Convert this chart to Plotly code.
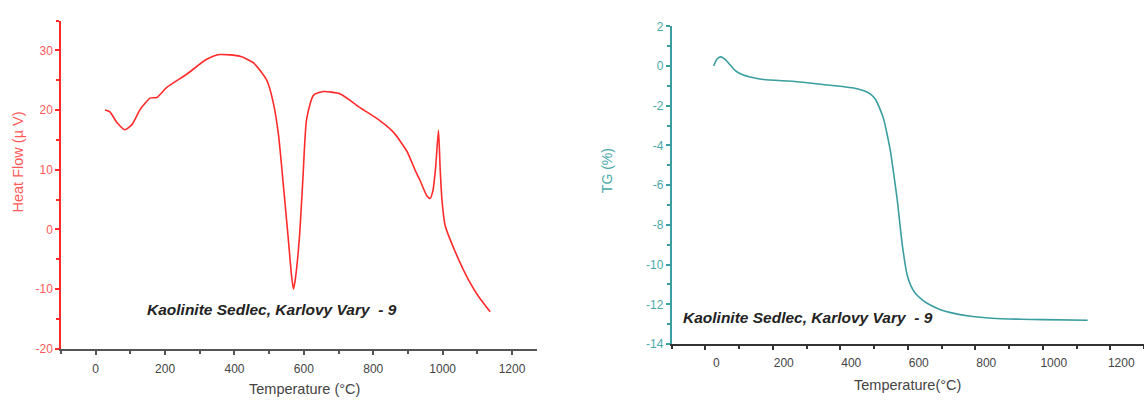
import plotly.graph_objects as go

# DTA curve (heat flow vs temperature)
dta_temp = [27, 41, 60, 84, 105, 128, 157, 176, 205, 262, 320, 358, 416, 455, 493,
            512, 527, 540, 555, 565, 570, 575, 587, 597, 608, 628, 656, 705, 762,
            820, 858, 897, 921, 935, 955, 964, 972, 980, 988, 993, 998, 1007, 1036,
            1075, 1103, 1137]
dta_heat = [20.0, 19.7, 18.0, 16.7, 17.6, 20.1, 22.0, 22.1, 23.8, 26.0, 28.5, 29.3,
            29.0, 27.9, 25.0, 21.2, 15.8, 8.0, -1.5, -8.0, -10.0, -8.5, -1.5, 8.2,
            18.5, 22.5, 23.1, 22.7, 20.4, 18.2, 16.3, 13.1, 9.9, 8.2, 5.6, 5.2, 6.5,
            10.5, 16.6, 10.0, 5.0, 0.7, -3.7, -8.5, -11.2, -13.8]

# TG curve (mass change vs temperature)
tg_temp = [25, 35, 45, 58, 74, 90, 109, 140, 173, 272, 371, 440, 470, 490, 505, 519,
           529, 539, 549, 559, 569, 584, 598, 610, 623, 645, 668, 697, 727, 786, 850,
           935, 1000, 1133]
tg_mass = [0.0, 0.35, 0.46, 0.35, 0.05, -0.25, -0.43, -0.58, -0.68, -0.79, -0.97,
           -1.11, -1.25, -1.41, -1.7, -2.22, -2.7, -3.45, -4.32, -5.5, -6.76, -9.03,
           -10.5, -11.1, -11.45, -11.8, -12.05, -12.27, -12.42, -12.6, -12.7,
           -12.75, -12.77, -12.8]

dta_yticks = [-20, -10, 0, 10, 20, 30]
tg_yticks = [-14, -12, -10, -8, -6, -4, -2, 0, 2]
temp_ticks = [0, 200, 400, 600, 800, 1000, 1200]

sample_label = "Kaolinite Sedlec, Karlovy Vary  - 9"

W, H = 1144, 408
FONT = "Liberation Sans, Arial, sans-serif"
RED = "#ff2b2b"
RED_LIGHT = "#ff5a5a"
TEAL = "#3a9ea0"
TEAL_TXT = "#4aa9aa"
DARK = "#444444"


def px_x(p):
    return p / W


def px_y(p):
    return 1 - p / H


def labels(vals):
    # plain hyphen-minus for negative numbers
    return [str(v) for v in vals]


fig = go.Figure()

fig.add_trace(go.Scatter(x=dta_temp, y=dta_heat, mode="lines",
                         line=dict(color=RED, width=1.6, shape="spline", smoothing=0.6),
                         xaxis="x", yaxis="y", showlegend=False))
fig.add_trace(go.Scatter(x=tg_temp, y=tg_mass, mode="lines",
                         line=dict(color=TEAL, width=1.6, shape="spline", smoothing=0.6),
                         xaxis="x2", yaxis="y2", showlegend=False))

tick_font = dict(family=FONT, size=12)

fig.update_layout(
    width=W, height=H,
    margin=dict(l=0, r=0, t=0, b=0),
    paper_bgcolor="white", plot_bgcolor="white",
    font=dict(family=FONT),
    xaxis=dict(domain=[px_x(61), px_x(537)], range=[-100, 1272],
               tickvals=temp_ticks, ticktext=labels(temp_ticks),
               showline=True, linecolor="#555555", linewidth=2,
               ticks="outside", ticklen=4, tickcolor="#555555", tickwidth=1.5,
               minor=dict(dtick=100, tick0=0, ticks="outside", ticklen=3,
                          tickcolor="#555555"),
               tickfont=dict(tick_font, color=DARK), ticklabelstandoff=4,
               showgrid=False, zeroline=False, anchor="y"),
    yaxis=dict(domain=[px_y(354), px_y(14)], range=[-20, 35],
               tickvals=dta_yticks, ticktext=labels(dta_yticks),
               showline=True, linecolor=RED, linewidth=1.5,
               ticks="outside", ticklen=4, tickcolor=RED, tickwidth=1.5,
               minor=dict(dtick=5, tick0=0, ticks="outside", ticklen=3,
                          tickcolor=RED),
               tickfont=dict(tick_font, color=RED_LIGHT),
               showgrid=False, zeroline=False, anchor="x"),
    xaxis2=dict(domain=[px_x(671.5), 1.0], range=[-100, 1300],
                tickvals=temp_ticks, ticktext=labels(temp_ticks),
                showline=True, linecolor="#333333", linewidth=1.5,
                ticks="outside", ticklen=4, tickcolor="#333333", tickwidth=1.5,
                minor=dict(dtick=100, tick0=0, ticks="outside", ticklen=3,
                           tickcolor="#333333"),
                tickfont=dict(tick_font, color=DARK), ticklabelshift=11,
                ticklabelstandoff=3,
                showgrid=False, zeroline=False, anchor="y2"),
    yaxis2=dict(domain=[px_y(349), px_y(20)], range=[-14, 2],
                tickvals=tg_yticks, ticktext=labels(tg_yticks),
                showline=True, linecolor=TEAL, linewidth=1.5,
                ticks="outside", ticklen=4, tickcolor=TEAL, tickwidth=1.5,
                minor=dict(dtick=1, tick0=0, ticks="outside", ticklen=3,
                           tickcolor=TEAL),
                tickfont=dict(tick_font, color=TEAL_TXT),
                showgrid=False, zeroline=False, anchor="x2"),
)

annotations = [
    # axis titles
    dict(x=px_x(304), y=px_y(396), text="Temperature (°C)",
         font=dict(family=FONT, size=14.5, color=DARK)),
    dict(x=px_x(18), y=px_y(161), text="Heat Flow (µ V)", textangle=-90,
         font=dict(family=FONT, size=14.5, color=RED_LIGHT)),
    dict(x=px_x(907), y=px_y(391), text="Temperature(°C)",
         font=dict(family=FONT, size=14.5, color=DARK)),
    dict(x=px_x(607), y=px_y(170), text="TG (%)", textangle=-90,
         font=dict(family=FONT, size=14, color=TEAL_TXT)),
    # sample labels
    dict(x=px_x(272), y=px_y(313), text="<b><i>" + sample_label + "</i></b>",
         font=dict(family=FONT, size=15.5, color="#222222")),
    dict(x=px_x(808), y=px_y(322), text="<b><i>" + sample_label + "</i></b>",
         font=dict(family=FONT, size=15.5, color="#222222")),
]
for a in annotations:
    a.update(xref="paper", yref="paper", showarrow=False,
             xanchor="center", yanchor="middle")
fig.update_layout(annotations=annotations)

fig.write_html("out.html")
